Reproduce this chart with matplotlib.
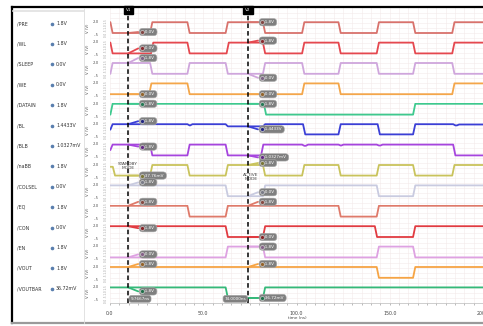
import matplotlib
matplotlib.use("Agg")
import numpy as np
import matplotlib.pyplot as plt
import matplotlib.colors as mcolors
from matplotlib.lines import Line2D
from matplotlib.transforms import offset_copy, blended_transform_factory

# signal names and the values read at cursor V2 (shown in left panel)
names = ["/PRE", "/WL", "/SLEEP", "/WE", "/DATAIN", "/BL", "/BLB", "/naBB",
         "/COLSEL", "/EQ", "/CON", "/EN", "/VOUT", "/VOUTBAR"]
values_v2 = ["1.8V", "1.8V", "0.0V", "0.0V", "1.8V", "1.4433V", "1.0327mV", "1.8V",
             "0.0V", "1.8V", "0.0V", "1.8V", "1.8V", "36.72mV"]
values_v1 = ["0.0V", "0.0V", "1.8V", "0.0V", "1.8V", "1.8V", "1.8V", "37.76mV",
             "1.8V", "1.8V", "1.8V", "0.0V", "1.8V", "1.8V"]

# cursor times (ns)
cursor_t = [9.7667, 74.0]
cursor_names = ["V1", "V2"]

# waveforms: edge times (ns) and the levels (V) between them
pre_edges = [0.2, 21.5, 41.5, 62, 82, 103, 122.5, 143, 162.5, 183.5]
pre_levels = [1.8, 0, 1.8, 0, 1.8, 0, 1.8, 0, 1.8, 0, 1.8]
wl_edges = [0.2, 22, 41.5, 62.5, 82, 103, 122.5, 143, 162.5, 183.5]
wl_levels = [1.8, 0, 1.8, 0, 1.8, 0, 1.8, 0, 1.8, 0, 1.8]
sleep_edges = [0.2, 21.5, 41.5, 62, 82, 103, 122.5, 143, 162.5, 183.5]
sleep_levels = [0, 1.8, 0, 1.8, 0, 1.8, 0, 1.8, 0, 1.8, 0]
we_edges = [21, 41.5, 103, 122.5, 183.5]
we_levels = [0, 1.8, 0, 1.8, 0, 1.8]
datain_edges = [0.2, 82.5, 162.5]
datain_levels = [0, 1.8, 0, 1.8]
bl_edges = [0.2, 41.5, 43, 62, 82, 103.5, 122.5, 143.5, 162.5, 184, 186]
bl_levels = [0.9, 1.8, 1.6, 1.8, 1.44, 1.8, 0.1, 1.8, 0.1, 1.8, 1.6, 1.75]
blb_edges = [0.2, 21.5, 41.5, 62, 81, 103, 105, 122.5, 124, 143, 145, 184]
blb_levels = [0.9, 1.8, 0.0, 1.8, 0.0, 1.8, 1.6, 1.8, 1.65, 1.8, 1.65, 1.8, 0.0]
nabb_edges = [1.5, 21.5, 41.5, 62, 82, 103, 122.5, 143, 162.5, 183.5]
nabb_levels = [1.5, 0.04, 1.8, 0.04, 1.8, 0.04, 1.8, 0.04, 1.8, 0.04, 1.8]
colsel_edges = [62, 82, 143, 162.5]
colsel_levels = [1.8, 0, 1.8, 0, 1.8]
eq_edges = [41.5, 62, 122.5, 143]
eq_levels = [1.8, 0, 1.8, 0, 1.8]
con_edges = [62, 82, 142, 162.5]
con_levels = [1.8, 0, 1.8, 0, 1.8]
en_edges = [62, 82, 143, 162.5]
en_levels = [0, 1.8, 0, 1.8, 0]
vout_edges = [143, 162.5]
vout_levels = [1.8, 0, 1.8]
voutbar_edges = [62, 82]
voutbar_levels = [1.8, 0.037, 1.8]

signals = [(pre_edges, pre_levels), (wl_edges, wl_levels), (sleep_edges, sleep_levels),
           (we_edges, we_levels), (datain_edges, datain_levels), (bl_edges, bl_levels),
           (blb_edges, blb_levels), (nabb_edges, nabb_levels), (colsel_edges, colsel_levels),
           (eq_edges, eq_levels), (con_edges, con_levels), (en_edges, en_levels),
           (vout_edges, vout_levels), (voutbar_edges, voutbar_levels)]

colors = ["#d8726c", "#e5484f", "#cfa6dc", "#f4a64a", "#3ec98e", "#3b3fd6", "#a645de",
          "#c9c35c", "#c9cbe0", "#df7a6a", "#e13a40", "#dea2e2", "#f6a444", "#35b979"]

# label vertical offsets (px, + is up) at each cursor
v1_dy = [1, 5, 5, 0, 0, 3, -2, 0, 3, 4, -2, 3, 3, -4]
v2_dy = [0, 2, -4, 0, 0, -3, -2, 2, 4, 4, 0, 0, 3, 0]

W, H = 483, 326
fig = plt.figure(figsize=(W / 100, H / 100), dpi=100)


def box(x, y, w, h):
    return [x / W, 1 - (y + h) / H, w / W, h / H]


def fx(x):
    return x / W


def fy(y):
    return 1 - y / H


def trace(edges, levels, ramp=1.2):
    t = [0.0]
    v = [levels[0]]
    for e, a, b in zip(edges, levels[:-1], levels[1:]):
        t += [e, e + ramp]
        v += [a, b]
    t.append(200.0)
    v.append(levels[-1])
    return np.array(t), np.array(v)


PL, PT, PW, PH = 110, 8, 373, 295

# background grid + time axis
bg = fig.add_axes(box(PL, PT, PW, PH), zorder=0)
bg.set_xlim(0, 200)
bg.set_ylim(0, PH)
bg.set_xticks([0, 50, 100, 150, 200])
bg.set_xticklabels(["0.0", "50.0", "100.0", "150.0", "200.0"], fontsize=3.4, color="#444444")
bg.set_xticks(np.arange(0, 201, 5), minor=True)
bg.set_yticks(np.arange(0, PH, 5))
bg.set_yticklabels([])
bg.tick_params(axis="y", length=0)
bg.tick_params(axis="x", which="both", length=1.5, width=0.4, color="#888888", pad=4)
bg.grid(True, which="both", color="#f3eaea", lw=0.4)
for s in ["top", "right", "left"]:
    bg.spines[s].set_visible(False)
bg.spines["bottom"].set_color("#bbbbbb")
bg.spines["bottom"].set_linewidth(0.5)
fig.text(fx(297), fy(318), "time (ns)", fontsize=3, color="#444444", ha="center", va="center")

# overlay for cursors
ov = fig.add_axes(box(PL, PT, PW, PH), zorder=5)
ov.set_xlim(0, 200)
ov.set_ylim(0, 1)
ov.axis("off")
ov.patch.set_alpha(0)
bt = blended_transform_factory(ov.transData, ov.transAxes)
for tc, cn in zip(cursor_t, cursor_names):
    ov.plot([tc, tc], [0, 1], color="black", lw=1.1, ls=(0, (3, 2)))
    ov.text(tc, 1.0, cn, transform=bt, ha="center", va="top", fontsize=3, color="white",
            bbox=dict(boxstyle="square,pad=0.45", fc="black", ec="black"))
ov.text(cursor_t[0] + 1.2, 0.014, "%.4fns" % cursor_t[0], ha="left", va="center", fontsize=3,
        color="white", bbox=dict(boxstyle="round,pad=0.35,rounding_size=0.6", fc="#808080", ec="#a0a0a0", lw=0.4))
ov.text(cursor_t[1] - 1.0, 0.014, "%.4fns" % cursor_t[1], ha="right", va="center", fontsize=3,
        color="white", bbox=dict(boxstyle="round,pad=0.35,rounding_size=0.6", fc="#808080", ec="#a0a0a0", lw=0.4))

for i, ((edges, levels), c) in enumerate(zip(signals, colors)):
    top = 21 + 20.4 * i
    ax = fig.add_axes(box(PL, top, PW, 15), zorder=3)
    ax.set_xlim(0, 200)
    ax.set_ylim(-0.5, 2.0)
    ax.axis("off")
    ax.patch.set_alpha(0)
    t, v = trace(edges, levels)
    ax.plot(t, v, color=c, lw=1.3, solid_joinstyle="round")

    dark = tuple(np.array(mcolors.to_rgb(c)) * 0.6)
    for tc, dy, lab in zip(cursor_t, [v1_dy[i], v2_dy[i]], [values_v1[i], values_v2[i]]):
        yv = np.interp(tc, t, v)
        dxp, dyp = 10 * 0.72, dy * 0.72
        ax.annotate("", xy=(tc, yv), xytext=(dxp, dyp), textcoords="offset points",
                    arrowprops=dict(arrowstyle="-", color=c, lw=1.3, shrinkA=0, shrinkB=0),
                    annotation_clip=False)
        tr_txt = offset_copy(ax.transData, fig=fig, x=dxp + 2, y=dyp, units="points")
        ax.text(tc, yv, "   " + lab + " ", transform=tr_txt, ha="left", va="center", fontsize=3,
                color="white", clip_on=False,
                bbox=dict(boxstyle="round,pad=0.4,rounding_size=0.8", fc="#7f7f7f", ec="#a8a8a8", lw=0.4))
        tr_dot = offset_copy(ax.transData, fig=fig, x=dxp + 3, y=dyp, units="points")
        ax.plot([tc], [yv], "o", ms=2.8, color=dark, mec="#e8e8e8", mew=0.4,
                transform=tr_dot, clip_on=False, zorder=10)

    # y axis labels
    fig.text(fx(88), fy(top + 7.5), "V (V)", rotation=90, fontsize=2.8, color="#555555",
             ha="center", va="center")
    fig.text(fx(99), fy(top + 1), "2.0", fontsize=2.8, color="#555555", ha="right", va="center")
    fig.text(fx(99), fy(top + 14), "-.5", fontsize=2.8, color="#555555", ha="right", va="center")
    fig.text(fx(106), fy(top + 7.5), "0.0 .5 1.0 1.5", rotation=90, fontsize=2.0,
             color="#9a9a9a", ha="center", va="center")

    # left panel entry
    fig.text(fx(17), fy(top + 2.5), names[i], fontsize=3.4, color="#333333", ha="left", va="center")
    fig.add_artist(Line2D([fx(52)], [fy(top + 2.5)], marker="o", ms=1.6, color="#5a7fae",
                          transform=fig.transFigure))
    fig.text(fx(56), fy(top + 2.5), values_v2[i], fontsize=3.4, color="#333333", ha="left", va="center")

# mode annotations
fig.text(fx(128), fy(166), "STANDBY\nMODE", fontsize=3.2, color="#444444", ha="center",
         va="center", linespacing=1.1, zorder=6)
fig.text(fx(251), fy(177), "ACTIVE\nMODE", fontsize=3.2, color="#444444", ha="center",
         va="center", linespacing=1.1, zorder=6)

# window frame
fig.add_artist(Line2D([fx(12), fx(483)], [fy(7), fy(7)], color="black", lw=1.6, transform=fig.transFigure))
fig.add_artist(Line2D([fx(12), fx(12)], [fy(7), fy(323)], color="black", lw=1.6, transform=fig.transFigure))
fig.add_artist(Line2D([fx(12), fx(483)], [fy(323), fy(323)], color="#9a9a9a", lw=1.6, transform=fig.transFigure))
fig.add_artist(Line2D([fx(84), fx(84)], [fy(8), fy(323)], color="#dddddd", lw=0.6, transform=fig.transFigure))
fig.add_artist(Line2D([fx(13), fx(84)], [fy(11), fy(11)], color="#e0e0e0", lw=1.2, transform=fig.transFigure))

fig.savefig("out.png", dpi=100)
